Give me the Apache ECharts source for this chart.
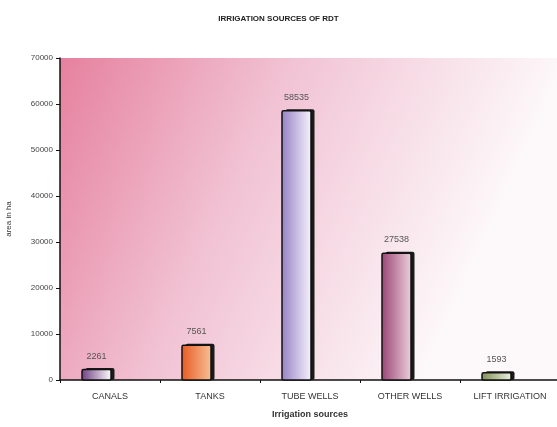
<!DOCTYPE html>
<html>
<head>
<meta charset="utf-8">
<script src="https://cdn.jsdelivr.net/npm/echarts@6/dist/echarts.min.js"></script>
<style>
html,body{margin:0;padding:0;background:#fff;}
#chart{width:557px;height:427px;}
</style>
</head>
<body>
<div id="chart"></div>
<script>
// Irrigation sources (area in ha)
var categories = ['CANALS', 'TANKS', 'TUBE WELLS', 'OTHER WELLS', 'LIFT IRRIGATION'];
var areas = [2261, 7561, 58535, 27538, 1593];
var yTicks = [0, 10000, 20000, 30000, 40000, 50000, 60000, 70000];

// front-face colours per bar: [left edge, right edge]
var faceColors = [
  ['#6e3d80', '#ffffff'],
  ['#e85a22', '#f6c196'],
  ['#9580c4', '#f7f4fc'],
  ['#9a4474', '#ecd0dd'],
  ['#7f8f55', '#eef1e0']
];

var chart = echarts.init(document.getElementById('chart'));

function renderBar(params, api) {
  var idx = api.value(0);
  var top = api.coord([idx, api.value(1)]);
  var base = api.coord([idx, 0]);
  var cx = top[0];
  var left = cx - 28, w = 29;
  var h = base[1] - top[1];
  var c = faceColors[idx];
  return {
    type: 'group',
    children: [
      {
        type: 'rect',
        shape: { x: left + 3.5, y: top[1] - 1.5, width: w, height: h + 1.5, r: 2 },
        style: { fill: '#1a1a1a' }
      },
      {
        type: 'rect',
        shape: { x: left, y: top[1], width: w, height: h, r: 1.5 },
        style: {
          fill: new echarts.graphic.LinearGradient(0, 0, 1, 0, [
            { offset: 0, color: c[0] },
            { offset: 1, color: c[1] }
          ]),
          stroke: '#111',
          lineWidth: 1.5
        }
      },
      {
        type: 'text',
        style: {
          text: String(api.value(1)),
          x: left + w / 2,
          y: top[1] - 9,
          align: 'center',
          verticalAlign: 'bottom',
          fill: '#555',
          font: '9px "Liberation Sans", Arial, sans-serif'
        }
      }
    ]
  };
}

chart.setOption({
  animation: false,
  title: {
    text: 'IRRIGATION SOURCES OF RDT',
    left: 'center',
    top: 10,
    textStyle: { fontSize: 8, fontWeight: 'bold', color: '#222', fontFamily: '"Liberation Sans Narrow", "Liberation Sans", Arial' }
  },
  grid: {
    left: 60, top: 58, width: 500, height: 322,
    containLabel: false,
    outerBoundsMode: 'none',
    show: true,
    borderWidth: 0,
    backgroundColor: new echarts.graphic.LinearGradient(0, 0, 0.85, 0.6, [
      { offset: 0, color: '#e6819f' },
      { offset: 0.45, color: '#f1c2d3' },
      { offset: 1, color: '#fdf9fb' }
    ])
  },
  xAxis: {
    type: 'category',
    data: categories,
    name: 'Irrigation sources',
    nameLocation: 'middle',
    nameGap: 30,
    nameTextStyle: { fontSize: 9, fontWeight: 'bold', color: '#333', fontFamily: '"Liberation Sans Narrow", Arial' },
    axisLine: { lineStyle: { color: '#111', width: 1.5 } },
    axisTick: { show: true, length: 3, lineStyle: { color: '#111' } },
    axisLabel: { fontSize: 9, color: '#333', margin: 12, interval: 0, fontFamily: '"Liberation Sans", Arial' }
  },
  yAxis: {
    type: 'value',
    min: 0, max: 70000, interval: 10000,
    name: 'area in ha',
    nameLocation: 'middle',
    nameGap: 47,
    nameTextStyle: { fontSize: 8, color: '#333' },
    axisLine: { show: true, lineStyle: { color: '#111', width: 1.5 } },
    axisTick: { show: true, length: 4, lineStyle: { color: '#111' } },
    splitLine: { show: false },
    axisLabel: {
      fontSize: 8, color: '#444', margin: 7,
      formatter: function (v) { return yTicks.indexOf(v) >= 0 ? String(v) : ''; }
    }
  },
  series: [{
    type: 'custom',
    renderItem: renderBar,
    data: areas.map(function (v, i) { return [i, v]; }),
    encode: { x: 0, y: 1 },
    clip: false
  }]
});
</script>
</body>
</html>
